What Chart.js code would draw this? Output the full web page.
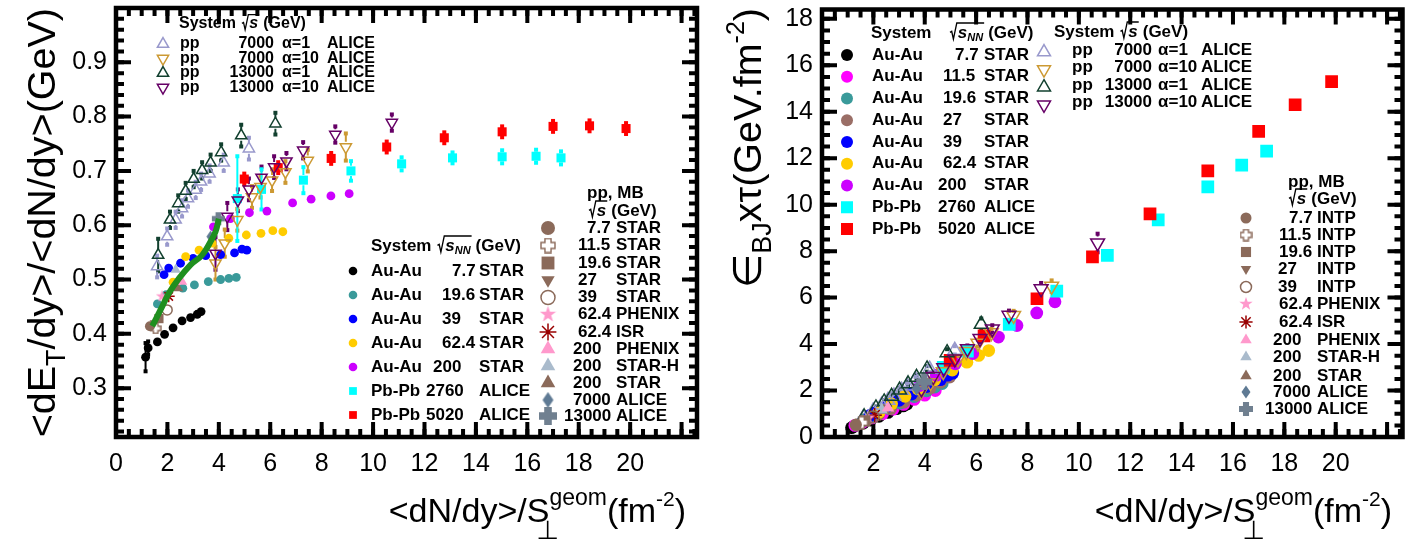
<!DOCTYPE html>
<html>
<head>
<meta charset="utf-8">
<title>E_T per particle and energy density vs dN/dy/S</title>
<script src="https://cdn.jsdelivr.net/npm/chart.js@4.4.1/dist/chart.umd.min.js"></script>
<style>
  html, body { margin: 0; padding: 0; background: #fff; }
  #wrap { position: relative; width: 1412px; height: 543px; overflow: hidden; }
  .panel { position: absolute; top: 0; width: 706px; height: 543px; }
</style>
</head>
<body>
<div id="wrap">
  <div class="panel" style="left:0"><canvas id="etChart"></canvas></div>
  <div class="panel" style="left:706px"><canvas id="epsChart"></canvas></div>
</div>
<script>
const FONT = '"Liberation Sans", Arial, Helvetica, "DejaVu Sans", sans-serif';

// tick labels
const dnTicksLeft = [0, 2, 4, 6, 8, 10, 12, 14, 16, 18, 20];
const dnTicksRight = [2, 4, 6, 8, 10, 12, 14, 16, 18, 20];
const etTicks = [0.3, 0.4, 0.5, 0.6, 0.7, 0.8, 0.9];
const epsTicks = [0, 2, 4, 6, 8, 10, 12, 14, 16, 18];

// x = <dN/dy>/S (fm^-2), Et = <dE_T/dy>/<dN/dy> (GeV), Eps = eps_BJ * tau (GeV/fm^2)
const auau7X = [1.15, 1.25, 1.61, 1.89, 2.22, 2.57, 2.90, 3.16, 3.31];
const auau7Et = [0.357, 0.374, 0.385, 0.399, 0.411, 0.424, 0.430, 0.436, 0.441];
const auau7EtErr = [0.026, 0.012, 0, 0, 0, 0, 0, 0, 0];
const auau7Eps = [0.40, 0.46, 0.60, 0.73, 0.89, 1.06, 1.22, 1.34, 1.42];

const auau11X = [1.28, 1.59, 1.95, 2.36, 2.77, 3.18, 3.59, 4.0, 4.41];
const auau11Eps = [0.50, 0.64, 0.82, 1.00, 1.20, 1.40, 1.62, 1.80, 2.00];

const auau19X = [1.61, 1.95, 2.60, 3.05, 3.59, 4.07, 4.39, 4.68];
const auau19Et = [0.455, 0.472, 0.484, 0.490, 0.496, 0.500, 0.502, 0.504];
const auau19Eps = [0.71, 0.90, 1.23, 1.46, 1.74, 1.99, 2.15, 2.30];

const auau27X = [1.33, 1.74, 2.20, 2.67, 3.18, 3.69, 4.20, 4.61, 4.97];
const auau27Eps = [0.52, 0.73, 0.97, 1.22, 1.50, 1.80, 2.10, 2.36, 2.58];

const auau39X = [1.87, 2.05, 2.51, 3.0, 3.49, 4.07, 4.61, 4.90, 5.09];
const auau39Et = [0.509, 0.521, 0.530, 0.539, 0.544, 0.546, 0.549, 0.556, 0.554];
const auau39Eps = [0.93, 1.04, 1.30, 1.58, 1.85, 2.17, 2.47, 2.66, 2.75];

const auau62X = [2.22, 2.71, 3.23, 3.74, 4.39, 5.07, 5.64, 6.10, 6.49];
const auau62Et = [0.495, 0.542, 0.554, 0.567, 0.576, 0.582, 0.585, 0.590, 0.588];
const auau62Eps = [1.07, 1.43, 1.75, 2.07, 2.47, 2.88, 3.22, 3.51, 3.72];

const auau200X = [3.79, 4.45, 5.19, 5.87, 6.87, 7.59, 8.36, 9.07];
const auau200Et = [0.597, 0.612, 0.623, 0.626, 0.641, 0.648, 0.654, 0.658];
const auau200Eps = [2.21, 2.66, 3.15, 3.59, 4.30, 4.80, 5.34, 5.82];

const pbpb2760X = [4.72, 5.66, 7.29, 9.14, 11.11, 13.09, 15.02, 16.34, 17.31];
const pbpb2760Et = [0.649, 0.666, 0.683, 0.700, 0.713, 0.724, 0.726, 0.727, 0.724];
const pbpb2760EtErr = [0.078, 0.037, 0.024, 0.018, 0.012, 0.010, 0.012, 0.012, 0.012];
const pbpb2760Eps = [3.0, 3.7, 4.85, 6.28, 7.82, 9.35, 10.77, 11.7, 12.3];

const pbpb5020X = [4.99, 6.31, 8.37, 10.53, 12.77, 15.02, 17.0, 18.42, 19.84];
const pbpb5020Et = [0.685, 0.706, 0.723, 0.744, 0.761, 0.772, 0.782, 0.783, 0.778];
const pbpb5020EtErr = [0.01, 0.01, 0.01, 0.01, 0.01, 0.01, 0.01, 0.01, 0.01];
const pbpb5020Eps = [3.3, 4.35, 5.95, 7.75, 9.6, 11.45, 13.15, 14.3, 15.3];

// pp ALICE, alpha = 1 / 10
const pp7a1X = [1.60, 1.99, 2.32, 2.57, 2.80, 3.10, 3.31, 3.64, 4.19, 5.17];
const pp7a1Et = [0.524, 0.579, 0.610, 0.631, 0.649, 0.665, 0.680, 0.695, 0.715, 0.741];
const pp7a1EtErr = [0.02, 0.015, 0.015, 0.015, 0.015, 0.015, 0.015, 0.015, 0.015, 0.02];
const pp7a1Eps = [0.82, 1.12, 1.38, 1.58, 1.77, 2.01, 2.20, 2.47, 2.92, 3.73];
const pp7a1EpsErr = [0.05, 0.06, 0.07, 0.08, 0.09, 0.1, 0.1, 0.12, 0.13, 0.18];

const pp7a10X = [3.87, 4.23, 4.72, 5.29, 5.62, 6.07, 6.59, 7.46, 8.94];
const pp7a10Et = [0.530, 0.567, 0.610, 0.652, 0.671, 0.683, 0.698, 0.719, 0.744];
const pp7a10EtErr = [0.03, 0.025, 0.02, 0.02, 0.02, 0.02, 0.02, 0.02, 0.025];
const pp7a10Eps = [2.00, 2.34, 2.81, 3.36, 3.68, 4.04, 4.49, 5.23, 6.49];
const pp7a10EpsErr = [0.12, 0.12, 0.12, 0.12, 0.14, 0.15, 0.16, 0.2, 0.25];

const pp13a1X = [1.64, 2.10, 2.42, 2.71, 3.02, 3.35, 3.68, 4.09, 4.87, 6.20];
const pp13a1Et = [0.545, 0.610, 0.640, 0.663, 0.685, 0.701, 0.715, 0.734, 0.765, 0.787];
const pp13a1EtErr = [0.03, 0.015, 0.015, 0.015, 0.015, 0.015, 0.015, 0.015, 0.02, 0.02];
const pp13a1Eps = [0.87, 1.25, 1.51, 1.75, 2.02, 2.29, 2.57, 2.93, 3.63, 4.85];
const pp13a1EpsErr = [0.05, 0.06, 0.07, 0.08, 0.09, 0.1, 0.1, 0.12, 0.15, 0.25];

const pp13a10X = [3.87, 4.33, 4.74, 5.17, 5.66, 6.15, 6.63, 7.28, 8.53, 10.73];
const pp13a10Et = [0.548, 0.616, 0.646, 0.666, 0.688, 0.707, 0.718, 0.738, 0.767, 0.789];
const pp13a10EtErr = [0.03, 0.025, 0.02, 0.02, 0.02, 0.02, 0.015, 0.015, 0.015, 0.015];
const pp13a10Eps = [2.07, 2.60, 2.98, 3.36, 3.80, 4.24, 4.65, 5.24, 6.38, 8.35];
const pp13a10EpsErr = [0.12, 0.12, 0.12, 0.12, 0.14, 0.15, 0.16, 0.2, 0.25, 0.4];

// pp minimum bias points
const mbEnergy = ['7.7', '11.5', '19.6', '27', '39', '62.4', '62.4', '200', '200', '200', '7000', '13000'];
const mbSourceLeft = ['STAR', 'STAR', 'STAR', 'STAR', 'STAR', 'PHENIX', 'ISR', 'PHENIX', 'STAR-H', 'STAR', 'ALICE', 'ALICE'];
const mbSourceRight = ['INTP', 'INTP', 'INTP', 'INTP', 'INTP', 'PHENIX', 'ISR', 'PHENIX', 'STAR-H', 'STAR', 'ALICE', 'ALICE'];
const mbX = [1.32, 1.54, 1.67, 1.49, 1.99, 1.79, 2.05, 2.57, 2.32, 2.41, 3.68, 3.98];
const mbEt = [0.414, 0.41, 0.428, 0.42, 0.444, 0.469, 0.469, 0.496, 0.518, 0.484, 0.579, 0.612];
const mbEps = [0.53, 0.62, 0.70, 0.61, 0.86, 0.82, 0.94, 1.25, 1.17, 1.14, 2.08, 2.37];

// green curve (left panel)
const curveX = [1.41, 1.73, 2.06, 2.45, 2.90, 3.35, 3.68, 3.87, 4.0];
const curveEt = [0.414, 0.444, 0.475, 0.502, 0.527, 0.545, 0.570, 0.588, 0.612];

// legend texts
const ppAliceEnergy = ['7000', '7000', '13000', '13000'];
const ppAliceAlpha = ['α=1', 'α=10', 'α=1', 'α=10'];
const hiSystemLeft = ['Au-Au', 'Au-Au', 'Au-Au', 'Au-Au', 'Au-Au', 'Pb-Pb', 'Pb-Pb'];
const hiEnergyLeft = ['7.7', '19.6', '39', '62.4', '200', '2760', '5020'];
const hiSourceLeft = ['STAR', 'STAR', 'STAR', 'STAR', 'STAR', 'ALICE', 'ALICE'];
const hiSystemRight = ['Au-Au', 'Au-Au', 'Au-Au', 'Au-Au', 'Au-Au', 'Au-Au', 'Au-Au', 'Pb-Pb', 'Pb-Pb'];
const hiEnergyRight = ['7.7', '11.5', '19.6', '27', '39', '62.4', '200', '2760', '5020'];
const hiSourceRight = ['STAR', 'STAR', 'STAR', 'STAR', 'STAR', 'STAR', 'STAR', 'ALICE', 'ALICE'];

// ---------- styles ----------
const BROWN = '#8b6a5a';
const S = {
  auau7: { shape: 'circle', color: '#000000', r: 4.4, R: 6.4 },
  auau11: { shape: 'circle', color: '#ff00ff', r: 4.4, R: 6.4 },
  auau19: { shape: 'circle', color: '#3a9a9a', r: 4.4, R: 6.4 },
  auau27: { shape: 'circle', color: '#9a6e66', r: 4.4, R: 6.4 },
  auau39: { shape: 'circle', color: '#0000ff', r: 4.4, R: 6.4 },
  auau62: { shape: 'circle', color: '#ffcc00', r: 4.4, R: 6.4 },
  auau200: { shape: 'circle', color: '#cc00ff', r: 4.4, R: 6.4 },
  pbpb2760: { shape: 'rect', color: '#00ffff', r: 6.4, R: 9 },
  pbpb5020: { shape: 'rect', color: '#ff0000', r: 6.4, R: 9 },
  pp7a1: { shape: 'triangle', color: '#9999cc', r: 6.5, R: 8, open: true },
  pp7a10: { shape: 'triangle', color: '#cc9933', r: 6.5, R: 8, open: true, rot: 180 },
  pp13a1: { shape: 'triangle', color: '#12402f', r: 6.5, R: 8, open: true },
  pp13a10: { shape: 'triangle', color: '#660066', r: 6.5, R: 8, open: true, rot: 180 }
};
const mbStyles = [
  { shape: 'circle', color: BROWN, r: 5 },
  { img: 'openCross', color: BROWN, r: 5 },
  { shape: 'rect', color: BROWN, r: 6.5 },
  { shape: 'triangle', color: BROWN, r: 5.5, rot: 180 },
  { shape: 'circle', color: BROWN, r: 5, open: true },
  { img: 'star5', color: '#ff99cc', r: 5.5 },
  { shape: 'star', color: '#990000', r: 6, line: true },
  { shape: 'triangle', color: '#ff99cc', r: 6 },
  { shape: 'triangle', color: '#aabbcc', r: 6 },
  { shape: 'triangle', color: BROWN, r: 6 },
  { img: 'diamond', color: '#5f7a94', r: 5.5 },
  { img: 'plus', color: '#708090', r: 6.5 }
];

const glyphCache = {};
function glyph(kind, color, px) {
  const key = kind + color + px;
  if (glyphCache[key]) return glyphCache[key];
  const c = document.createElement('canvas');
  c.width = px; c.height = px;
  const g = c.getContext('2d');
  const n = px;
  if (kind === 'openCross' || kind === 'plus') {
    const arm = n * 0.38, a = (n - arm) / 2, b = (n + arm) / 2, e = 1, f = n - 1;
    g.beginPath();
    g.moveTo(a, e); g.lineTo(b, e); g.lineTo(b, a); g.lineTo(f, a); g.lineTo(f, b); g.lineTo(b, b);
    g.lineTo(b, f); g.lineTo(a, f); g.lineTo(a, b); g.lineTo(e, b); g.lineTo(e, a); g.lineTo(a, a);
    g.closePath();
    if (kind === 'plus') { g.fillStyle = color; g.fill(); }
    else { g.fillStyle = '#fff'; g.fill(); g.strokeStyle = color; g.lineWidth = 1.4; g.stroke(); }
  } else if (kind === 'star5') {
    g.beginPath();
    for (let i = 0; i < 10; i++) {
      const ang = -Math.PI / 2 + i * Math.PI / 5;
      const rad = i % 2 ? n * 0.2 : n * 0.5;
      g.lineTo(n / 2 + rad * Math.cos(ang), n / 2 + rad * Math.sin(ang));
    }
    g.closePath(); g.fillStyle = color; g.fill();
  } else if (kind === 'diamond') {
    g.beginPath();
    g.moveTo(n / 2, 0.5); g.lineTo(n * 0.82, n / 2); g.lineTo(n / 2, n - 0.5); g.lineTo(n * 0.18, n / 2);
    g.closePath(); g.fillStyle = color; g.fill();
  }
  glyphCache[key] = c;
  return c;
}

function scatterSet(label, xs, ys, st, r, err) {
  const style = st.img ? glyph(st.img, st.color, Math.round(2 * r + 2)) : st.shape;
  return {
    label: label,
    data: xs.map((x, i) => ({ x: x, y: ys[i] })),
    pointStyle: style,
    pointRadius: r,
    pointRotation: st.rot || 0,
    pointBackgroundColor: st.open ? 'rgba(0,0,0,0)' : st.color,
    pointBorderColor: st.color,
    pointBorderWidth: (st.open || st.line) ? 1.5 : 0,
    showLine: false,
    errY: err || null
  };
}

// ---------- drawing helpers ----------
function txt(ctx, s, x, y, size, opt) {
  opt = opt || {};
  ctx.font = (opt.italic ? 'italic ' : '') + (opt.plain ? '' : 'bold ') + size + 'px ' + FONT;
  ctx.textAlign = opt.align || 'left';
  ctx.textBaseline = 'middle';
  ctx.fillStyle = '#000';
  ctx.fillText(s, x, y);
  return ctx.measureText(s).width;
}

function sqrtS(ctx, x, y, size, sub) {
  const base = y + size * 0.36;
  ctx.font = 'italic bold ' + size + 'px ' + FONT;
  const sw = ctx.measureText('s').width;
  let subW = 0;
  const subSize = Math.round(size * 0.62);
  if (sub) { ctx.font = 'italic bold ' + subSize + 'px ' + FONT; subW = ctx.measureText(sub).width; }
  const top = base - size * 0.95;
  const rx = x + size * 0.4;
  ctx.save();
  ctx.strokeStyle = '#000';
  ctx.lineWidth = Math.max(1.3, size * 0.08);
  ctx.beginPath();
  ctx.moveTo(x, base - size * 0.4);
  ctx.lineTo(x + size * 0.1, base - size * 0.46);
  ctx.lineTo(x + size * 0.2, base);
  ctx.lineTo(rx, top);
  ctx.lineTo(rx + sw + subW + 2, top);
  ctx.stroke();
  ctx.restore();
  txt(ctx, 's', rx + 1, y, size, { italic: true });
  if (sub) txt(ctx, sub, rx + 1 + sw, y + size * 0.32, subSize, { italic: true });
  return rx + 1 + sw + subW - x;
}

function drawMarker(ctx, st, r, x, y) {
  ctx.save();
  const style = st.img ? glyph(st.img, st.color, Math.round(2 * r + 2)) : st.shape;
  const bw = (st.open || st.line) ? 1.5 : 0;
  ctx.fillStyle = st.open ? 'rgba(0,0,0,0)' : st.color;
  ctx.strokeStyle = st.color;
  ctx.lineWidth = bw;
  Chart.helpers.drawPoint(ctx, { pointStyle: style, rotation: st.rot || 0, radius: r, borderWidth: bw }, x, y);
  ctx.restore();
}

function rich(ctx, x, y, parts) {
  ctx.save();
  ctx.fillStyle = '#000';
  ctx.textBaseline = 'alphabetic';
  ctx.textAlign = 'left';
  let w = 0;
  parts.forEach(p => { ctx.font = p.size + 'px ' + FONT; p.w = ctx.measureText(p.t).width; if (!p.hang) w += p.w; });
  let cx = x - w;
  parts.forEach(p => {
    ctx.font = p.size + 'px ' + FONT;
    ctx.fillText(p.t, cx + (p.dx || 0), y + (p.dy || 0));
    if (!p.hang) cx += p.w;
  });
  ctx.restore();
}

function xTitle(ctx) {
  rich(ctx, 686, 522, [
    { t: '<dN/dy>/S', size: 34 },
    { t: '⊥', size: 26, dy: 17, dx: -13, hang: true },
    { t: 'geom', size: 23, dy: -17 },
    { t: '(fm', size: 34 },
    { t: '-2', size: 21, dy: -16 },
    { t: ')', size: 34 }
  ]);
}

function yTitle(ctx, parts) {
  ctx.save();
  ctx.translate(55, 8);
  ctx.rotate(-Math.PI / 2);
  rich(ctx, 0, 0, parts);
  ctx.restore();
}

// ROOT style frame with inward ticks on all four sides
function rootFrame(xMinor, xMajor, yMinor, yMajor) {
  return {
    id: 'rootFrame',
    beforeDatasetsDraw(chart) {
      const { ctx, chartArea: a, scales: { x, y } } = chart;
      ctx.save();
      ctx.strokeStyle = '#000';
      ctx.lineWidth = 4;
      const ticks = (sc, step, len, isX) => {
        const n0 = Math.ceil(sc.min / step - 1e-6), n1 = Math.floor(sc.max / step + 1e-6);
        ctx.beginPath();
        for (let k = n0; k <= n1; k++) {
          const p = sc.getPixelForValue(k * step);
          if (isX) {
            ctx.moveTo(p, a.bottom); ctx.lineTo(p, a.bottom - len);
            ctx.moveTo(p, a.top); ctx.lineTo(p, a.top + len);
          } else {
            ctx.moveTo(a.left, p); ctx.lineTo(a.left + len, p);
            ctx.moveTo(a.right, p); ctx.lineTo(a.right - len, p);
          }
        }
        ctx.stroke();
      };
      ticks(x, xMinor, 8, true); ticks(x, xMajor, 15, true);
      ticks(y, yMinor, 8, false); ticks(y, yMajor, 15, false);
      ctx.lineWidth = 4.5;
      ctx.strokeRect(a.left, a.top, a.width, a.height);
      ctx.restore();
    }
  };
}

const errorBars = {
  id: 'errorBars',
  beforeDatasetsDraw(chart) {
    const { ctx, scales: { x, y } } = chart;
    chart.data.datasets.forEach(ds => {
      if (!ds.errY) return;
      ctx.save();
      ctx.strokeStyle = ds.pointBorderColor;
      ctx.fillStyle = ds.pointBorderColor;
      ctx.lineWidth = 2;
      ds.data.forEach((p, i) => {
        const e = ds.errY[i];
        if (!e) return;
        const px = x.getPixelForValue(p.x);
        const y0 = y.getPixelForValue(p.y), y1 = y.getPixelForValue(p.y + e), y2 = y.getPixelForValue(p.y - e);
        const gap = ds.pointRadius * 0.8;
        ctx.beginPath();
        if (y0 - y1 > gap) { ctx.moveTo(px, y0 - gap); ctx.lineTo(px, y1); }
        if (y2 - y0 > gap) { ctx.moveTo(px, y0 + gap); ctx.lineTo(px, y2); }
        ctx.stroke();
        ctx.fillRect(px - 2, y1 - 2, 4, 4);
        ctx.fillRect(px - 2, y2 - 2, 4, 4);
      });
      ctx.restore();
    });
  }
};

function noPad(s) { s.paddingTop = 0; s.paddingBottom = 0; s.paddingLeft = 0; s.paddingRight = 0; }

function options(xTicks, yTicks, yMin, yMax, yFmt) {
  return {
    responsive: true,
    maintainAspectRatio: false,
    animation: false,
    events: [],
    layout: { padding: { left: 0, right: 9, top: 7, bottom: 0 } },
    plugins: { legend: { display: false }, tooltip: { enabled: false } },
    scales: {
      x: {
        type: 'linear', min: 0, max: 22.6,
        grid: { display: false, drawTicks: false }, border: { display: false },
        ticks: { font: { family: FONT, size: 25 }, color: '#000', padding: 12, maxRotation: 0, autoSkip: false },
        afterBuildTicks: s => { s.ticks = xTicks.map(v => ({ value: v })); },
        afterFit: s => { s.height = 106; noPad(s); }
      },
      y: {
        type: 'linear', min: yMin, max: yMax,
        grid: { display: false, drawTicks: false }, border: { display: false },
        ticks: { font: { family: FONT, size: 25 }, color: '#000', padding: 9, autoSkip: false, callback: yFmt },
        afterBuildTicks: s => { s.ticks = yTicks.map(v => ({ value: v })); },
        afterFit: s => { s.width = 116; noPad(s); }
      }
    }
  };
}

// ---------- left panel: <dE_T/dy>/<dN/dy> ----------
const leftSets = [
  { label: 'curve', data: curveX.map((x, i) => ({ x: x, y: curveEt[i] })), showLine: true,
    borderColor: '#1f8f1f', borderWidth: 6, pointRadius: 0, tension: 0.4, fill: false }
];
mbX.forEach((x, i) => leftSets.push(scatterSet('pp ' + mbEnergy[i] + ' ' + mbSourceLeft[i], [x], [mbEt[i]], mbStyles[i], mbStyles[i].r)));
leftSets.push(
  scatterSet('pp 13000 a=10', pp13a10X, pp13a10Et, S.pp13a10, S.pp13a10.r, pp13a10EtErr),
  scatterSet('pp 13000 a=1', pp13a1X, pp13a1Et, S.pp13a1, S.pp13a1.r, pp13a1EtErr),
  scatterSet('pp 7000 a=10', pp7a10X, pp7a10Et, S.pp7a10, S.pp7a10.r, pp7a10EtErr),
  scatterSet('pp 7000 a=1', pp7a1X, pp7a1Et, S.pp7a1, S.pp7a1.r, pp7a1EtErr),
  scatterSet('Pb-Pb 5020', pbpb5020X, pbpb5020Et, S.pbpb5020, S.pbpb5020.r, pbpb5020EtErr),
  scatterSet('Pb-Pb 2760', pbpb2760X, pbpb2760Et, S.pbpb2760, S.pbpb2760.r, pbpb2760EtErr),
  scatterSet('Au-Au 200', auau200X, auau200Et, S.auau200, S.auau200.r),
  scatterSet('Au-Au 62.4', auau62X, auau62Et, S.auau62, S.auau62.r),
  scatterSet('Au-Au 39', auau39X, auau39Et, S.auau39, S.auau39.r),
  scatterSet('Au-Au 19.6', auau19X, auau19Et, S.auau19, S.auau19.r),
  scatterSet('Au-Au 7.7', auau7X, auau7Et, S.auau7, S.auau7.r, auau7EtErr)
);

const ppKeys = ['pp7a1', 'pp7a10', 'pp13a1', 'pp13a10'];
const hiKeysLeft = ['auau7', 'auau19', 'auau39', 'auau62', 'auau200', 'pbpb2760', 'pbpb5020'];
const hiKeysRight = ['auau7', 'auau11', 'auau19', 'auau27', 'auau39', 'auau62', 'auau200', 'pbpb2760', 'pbpb5020'];

function drawLeftNotes(ctx) {
  // pp ALICE block
  let x = 179;
  x += txt(ctx, 'System', x, 24, 16) + 6;
  x += sqrtS(ctx, x, 24, 16) + 5;
  txt(ctx, '(GeV)', x, 24, 16);
  ppKeys.forEach((k, i) => {
    const y = 44 + i * 14.5;
    drawMarker(ctx, S[k], 6.5, 163, y);
    txt(ctx, 'pp', 180, y, 16);
    txt(ctx, ppAliceEnergy[i], 274, y, 16, { align: 'right' });
    txt(ctx, ppAliceAlpha[i], 282, y, 16);
    txt(ctx, 'ALICE', 327, y, 16);
  });
  // heavy ion block
  x = 371;
  x += txt(ctx, 'System', x, 246, 17) + 6;
  x += sqrtS(ctx, x, 246, 17, 'NN') + 5;
  txt(ctx, '(GeV)', x, 246, 17);
  const numX = [452, 442, 442, 442, 433, 426, 426];
  hiKeysLeft.forEach((k, i) => {
    const y = 271 + i * 24;
    const st = S[k];
    drawMarker(ctx, st, st.shape === 'rect' ? 5.5 : 4.3, 353, y);
    txt(ctx, hiSystemLeft[i], 371, y, 17);
    txt(ctx, hiEnergyLeft[i], numX[i], y, 17);
    txt(ctx, hiSourceLeft[i], 479, y, 17);
  });
  // pp minimum bias block
  txt(ctx, 'pp, MB', 587, 193, 17);
  x = 589;
  x += sqrtS(ctx, x, 211, 17) + 5;
  txt(ctx, '(GeV)', x, 211, 17);
  const mbNumX = [587, 578, 578, 578, 578, 578, 578, 573, 573, 573, 573, 564];
  const mbRowY = [228, 245.5, 263, 280, 297.5, 314.5, 332, 349, 366, 383, 400, 416];
  mbStyles.forEach((st, i) => {
    drawMarker(ctx, st, st.r * 1.4, 548, mbRowY[i]);
    txt(ctx, mbEnergy[i], mbNumX[i], mbRowY[i], 17);
    txt(ctx, mbSourceLeft[i], 616, mbRowY[i], 17);
  });
  xTitle(ctx);
  yTitle(ctx, [
    { t: '<dE', size: 39.5 },
    { t: 'T', size: 27, dy: 10 },
    { t: '/dy>/<dN/dy>(GeV)', size: 39.5 }
  ]);
}

new Chart(document.getElementById('etChart'), {
  type: 'scatter',
  data: { datasets: leftSets },
  options: options(dnTicksLeft, etTicks, 0.21, 1.0, v => v.toFixed(1)),
  plugins: [rootFrame(0.5, 2, 0.02, 0.1), errorBars, { id: 'leftNotes', afterDraw: c => drawLeftNotes(c.ctx) }]
});

// ---------- right panel: eps_BJ * tau ----------
const rightSets = [];
mbX.forEach((x, i) => rightSets.push(scatterSet('pp ' + mbEnergy[i] + ' ' + mbSourceRight[i], [x], [mbEps[i]], mbStyles[i], mbStyles[i].r * 1.2)));
rightSets.push(
  scatterSet('pp 13000 a=10', pp13a10X, pp13a10Eps, S.pp13a10, S.pp13a10.R, pp13a10EpsErr),
  scatterSet('pp 13000 a=1', pp13a1X, pp13a1Eps, S.pp13a1, S.pp13a1.R, pp13a1EpsErr),
  scatterSet('pp 7000 a=10', pp7a10X, pp7a10Eps, S.pp7a10, S.pp7a10.R, pp7a10EpsErr),
  scatterSet('pp 7000 a=1', pp7a1X, pp7a1Eps, S.pp7a1, S.pp7a1.R, pp7a1EpsErr),
  scatterSet('Pb-Pb 5020', pbpb5020X, pbpb5020Eps, S.pbpb5020, S.pbpb5020.R),
  scatterSet('Pb-Pb 2760', pbpb2760X, pbpb2760Eps, S.pbpb2760, S.pbpb2760.R),
  scatterSet('Au-Au 200', auau200X, auau200Eps, S.auau200, S.auau200.R),
  scatterSet('Au-Au 62.4', auau62X, auau62Eps, S.auau62, S.auau62.R),
  scatterSet('Au-Au 39', auau39X, auau39Eps, S.auau39, S.auau39.R),
  scatterSet('Au-Au 27', auau27X, auau27Eps, S.auau27, S.auau27.R),
  scatterSet('Au-Au 19.6', auau19X, auau19Eps, S.auau19, S.auau19.R),
  scatterSet('Au-Au 11.5', auau11X, auau11Eps, S.auau11, S.auau11.R),
  scatterSet('Au-Au 7.7', auau7X, auau7Eps, S.auau7, S.auau7.R)
);

function drawRightNotes(ctx) {
  // heavy ion block
  txt(ctx, 'System', 165, 33, 17);
  let x = 244;
  x += sqrtS(ctx, x, 33, 17, 'NN') + 5;
  txt(ctx, '(GeV)', x, 33, 17);
  const numX = [249, 237, 237, 237, 237, 237, 232, 232, 232];
  hiKeysRight.forEach((k, i) => {
    const y = 55 + i * 21.75;
    const st = S[k];
    drawMarker(ctx, st, st.shape === 'rect' ? 8.5 : 6, 141, y);
    txt(ctx, hiSystemRight[i], 166, y, 17);
    txt(ctx, hiEnergyRight[i], numX[i], y, 17);
    txt(ctx, hiSourceRight[i], 278, y, 17);
  });
  // pp ALICE block
  x = 348;
  x += txt(ctx, 'System', x, 32, 17) + 6;
  x += sqrtS(ctx, x, 32, 17) + 5;
  txt(ctx, '(GeV)', x, 32, 17);
  ppKeys.forEach((k, i) => {
    const y = 50 + i * 17.6;
    drawMarker(ctx, S[k], 7.5, 338, y + 2);
    txt(ctx, 'pp', 366, y, 17);
    txt(ctx, ppAliceEnergy[i], 446, y, 17, { align: 'right' });
    txt(ctx, ppAliceAlpha[i], 452, y, 17);
    txt(ctx, 'ALICE', 495, y, 17);
  });
  // pp minimum bias block
  txt(ctx, 'pp, MB', 582, 182, 17);
  x = 583;
  x += sqrtS(ctx, x, 199, 17) + 5;
  txt(ctx, '(GeV)', x, 199, 17);
  const mbNumX = [583, 573, 573, 572, 572, 573, 573, 567, 567, 567, 567, 559];
  const mbRowY = [218, 235, 252, 269, 287, 304, 322, 340, 357, 376, 392, 409];
  mbStyles.forEach((st, i) => {
    drawMarker(ctx, st, st.r * 1.1, 540, mbRowY[i]);
    txt(ctx, mbEnergy[i], mbNumX[i], mbRowY[i], 17);
    txt(ctx, mbSourceRight[i], 611, mbRowY[i], 17);
  });
  xTitle(ctx);
  yTitle(ctx, [
    { t: '∈', size: 39.5 },
    { t: 'BJ', size: 27, dy: 10 },
    { t: 'xτ(GeV.fm', size: 39.5 },
    { t: '-2', size: 25, dy: -17 },
    { t: ')', size: 39.5 }
  ]);
}

new Chart(document.getElementById('epsChart'), {
  type: 'scatter',
  data: { datasets: rightSets },
  options: options(dnTicksRight, epsTicks, 0, 18.4, v => String(v)),
  plugins: [rootFrame(0.5, 2, 0.5, 2), errorBars, { id: 'rightNotes', afterDraw: c => drawRightNotes(c.ctx) }]
});
</script>
</body>
</html>
